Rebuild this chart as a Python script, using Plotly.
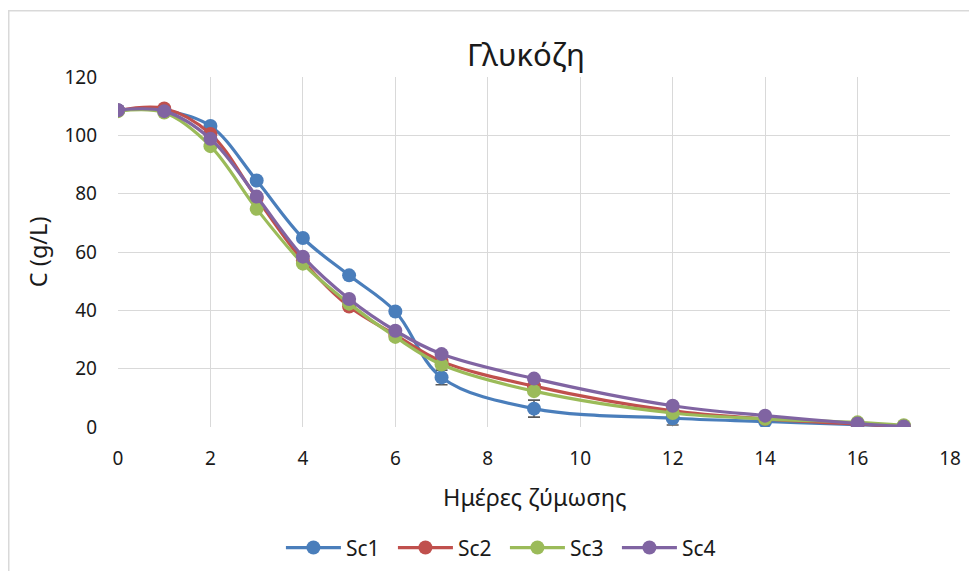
import plotly.graph_objects as go

days = [0, 1, 2, 3, 4, 5, 6, 7, 9, 12, 14, 16, 17]
sc1 = [108.6, 108.6, 103.2, 84.5, 64.8, 52.0, 39.6, 17.0, 6.3, 3.0, 1.9, 0.8, 0.2]
sc2 = [108.5, 109.2, 100.5, 78.5, 57.0, 41.3, 31.6, 22.5, 14.0, 5.5, 2.8, 1.0, 0.2]
sc3 = [108.3, 107.8, 96.3, 74.8, 56.0, 42.3, 30.9, 21.4, 12.3, 4.8, 2.8, 1.6, 0.6]
sc4 = [108.6, 108.3, 98.8, 79.0, 58.4, 43.9, 33.0, 25.0, 16.6, 7.3, 3.9, 1.2, 0.2]
err1 = [0, 0, 0, 0, 0, 0, 0, 2.5, 2.9, 2.3, 0, 0, 0]
err_other = [0] * 13

names = ["Sc1", "Sc2", "Sc3", "Sc4"]
series = [sc1, sc2, sc3, sc4]
errors = [err1, err_other, err_other, err_other]
colors = ["#4A7EBB", "#C0504D", "#9BBB59", "#8064A2"]

title_text = "Γλυκόζη"
x_title = "Ημέρες ζύμωσης"
y_title = "C (g/L)"

font_family = "Noto Sans, DejaVu Sans, sans-serif"
txt = "#1a1a1a"

fig = go.Figure()
for name, vals, err, col in zip(names, series, errors, colors):
    fig.add_trace(go.Scatter(
        x=days, y=vals, name=name, mode="lines+markers",
        line=dict(color=col, width=3.2, shape="spline", smoothing=1.0),
        marker=dict(color=col, size=14),
        error_y=dict(type="data", array=err, visible=True, color="#595959",
                     thickness=1.6, width=6),
    ))

fig.update_layout(
    width=961, height=563,
    margin=dict(l=110, r=19, t=69.3, b=143.7, autoexpand=False),
    paper_bgcolor="white", plot_bgcolor="white",
    font=dict(family=font_family, color=txt, size=19),
    title=dict(text=title_text, x=0.539, xanchor="center", y=0.9165, yanchor="middle",
               font=dict(size=31, color=txt)),
    showlegend=True,
    legend=dict(orientation="h", xref="container", yref="container",
                x=0.284, xanchor="left", y=0.041, yanchor="middle",
                font=dict(size=21, color=txt), itemwidth=55, entrywidth=42,
                entrywidthmode="pixels", traceorder="normal"),
    shapes=[dict(type="rect", xref="paper", yref="paper",
                 x0=-0.1313, x1=1.2, y0=-0.6, y1=1.189,
                 line=dict(color="#D9D9D9", width=1.5), fillcolor="rgba(0,0,0,0)", layer="below")],
    annotations=[
        dict(text=x_title, xref="paper", yref="paper", x=0.5, y=-0.199,
             xanchor="center", yanchor="middle", showarrow=False,
             font=dict(size=23.5, color=txt)),
        dict(text=y_title, xref="paper", yref="paper", x=-0.096, y=0.5,
             xanchor="center", yanchor="middle", showarrow=False, textangle=-90,
             font=dict(size=23.5, color=txt)),
    ],
)

fig.update_xaxes(
    range=[0, 18], tickmode="linear", tick0=0, dtick=2, automargin=False,
    showgrid=True, gridcolor="#D9D9D9", gridwidth=1.2,
    zeroline=False, showline=False, ticks="",
    ticklabelstandoff=18, tickfont=dict(size=19, color=txt),
)
fig.update_yaxes(
    range=[0, 120], tickmode="linear", tick0=0, dtick=20, automargin=False,
    showgrid=True, gridcolor="#D9D9D9", gridwidth=1.2,
    zeroline=False, showline=False, ticks="",
    ticklabelstandoff=20, tickfont=dict(size=19, color=txt),
)

fig.write_html("out.html")
